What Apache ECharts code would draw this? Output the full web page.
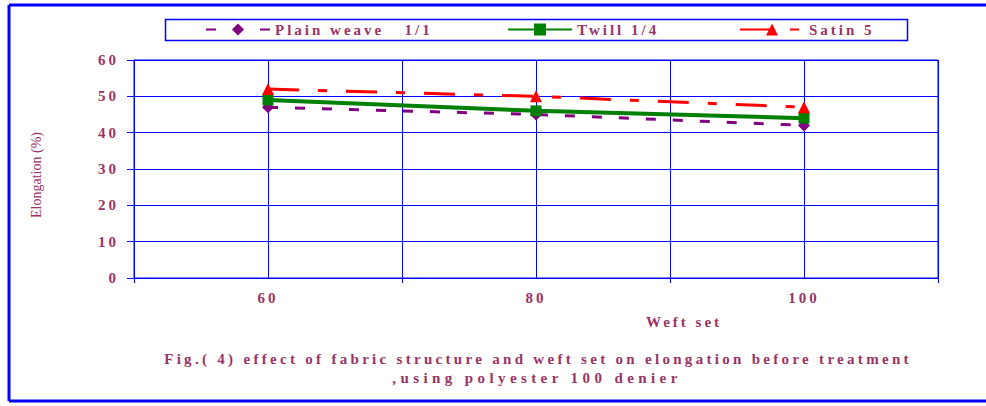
<!DOCTYPE html>
<html>
<head>
<meta charset="utf-8">
<script src="https://cdn.jsdelivr.net/npm/echarts@6/dist/echarts.min.js"></script>
<style>
  html, body { margin: 0; padding: 0; background: #ffffff; }
  #chart { width: 986px; height: 406px; }
</style>
</head>
<body>
<div id="chart"></div>
<script>
// Weft set categories and elongation (%) per fabric structure
const categories = ['60', '80', '100'];
const plainWeave = [47, 45, 42];
const twill = [49, 46, 44];
const satin = [52, 50, 47];
const seriesNames = ['Plain weave   1/1', 'Twill 1/4', 'Satin 5'];
const yTicks = { min: 0, max: 60, interval: 10 };
const yTitle = 'Elongation (%)';
const xTitle = 'Weft set';
const captionLines = [
  'Fig.( 4) effect of fabric structure and weft set on elongation before treatment',
  ',using polyester 100 denier'
];

const TEXT = '#993366';
const BLUE = '#0000ff';
const SERIF = '"Liberation Serif", "Times New Roman", serif';

const chart = echarts.init(document.getElementById('chart'), null, { renderer: 'svg' });

const legendText = { color: TEXT, fontFamily: SERIF, fontWeight: 'bold', fontSize: 15 };
function legendAt(name, left) {
  return {
    data: [name], left: left, top: 22, padding: 0, itemGap: 0,
    itemWidth: 64, itemHeight: 15, textStyle: legendText
  };
}

chart.setOption({
  animation: false,
  backgroundColor: '#ffffff',
  grid: {
    left: 134, right: 48, top: 60, bottom: 128,
    show: true, borderColor: BLUE, borderWidth: 1, backgroundColor: 'transparent'
  },
  legend: [
    legendAt(seriesNames[0], 205),
    legendAt(seriesNames[1], 507),
    legendAt(seriesNames[2], 739)
  ],
  xAxis: [
    {
      type: 'category', data: categories, boundaryGap: true,
      axisLine: { lineStyle: { color: BLUE, width: 1 } },
      axisTick: { show: true, length: 5, lineStyle: { color: BLUE } },
      splitLine: { show: false },
      axisLabel: { color: TEXT, fontFamily: SERIF, fontWeight: 'bold', fontSize: 15, margin: 12 }
    },
    {
      // helper axis that only carries the vertical gridlines
      type: 'value', min: 0, max: 6, interval: 1, position: 'bottom',
      axisLine: { show: false }, axisTick: { show: false }, axisLabel: { show: false },
      splitLine: { show: true, lineStyle: { color: BLUE, width: 1 } }
    }
  ],
  yAxis: {
    type: 'value', min: yTicks.min, max: yTicks.max, interval: yTicks.interval,
    axisLine: { show: true, lineStyle: { color: BLUE, width: 1 } },
    axisTick: { show: true, length: 7, lineStyle: { color: BLUE } },
    splitLine: { show: true, lineStyle: { color: BLUE, width: 1 } },
    axisLabel: { color: TEXT, fontFamily: SERIF, fontWeight: 'bold', fontSize: 15, margin: 15 }
  },
  series: [
    {
      name: seriesNames[0], type: 'line', data: plainWeave, xAxisIndex: 0,
      symbol: 'diamond', symbolSize: 12,
      itemStyle: { color: '#800080' },
      lineStyle: { color: '#800080', width: 3, type: [10, 17] }
    },
    {
      name: seriesNames[1], type: 'line', data: twill, xAxisIndex: 0,
      symbol: 'rect', symbolSize: 11,
      itemStyle: { color: '#008000' },
      lineStyle: { color: '#008000', width: 4, type: 'solid' }
    },
    {
      name: seriesNames[2], type: 'line', data: satin, xAxisIndex: 0,
      symbol: 'triangle', symbolSize: 12,
      itemStyle: { color: '#ff0000' },
      lineStyle: { color: '#ff0000', width: 3, type: [31, 19, 9, 19] }
    }
  ],
  graphic: [
    // outer frame
    { type: 'line', shape: { x1: 9, y1: 5, x2: 986, y2: 5 }, style: { stroke: BLUE, lineWidth: 3 } },
    { type: 'line', shape: { x1: 9, y1: 5, x2: 9, y2: 401 }, style: { stroke: BLUE, lineWidth: 3 } },
    { type: 'line', shape: { x1: 9, y1: 401, x2: 986, y2: 401 }, style: { stroke: BLUE, lineWidth: 3 } },
    // legend box
    { type: 'rect', shape: { x: 165.5, y: 19.5, width: 742, height: 21 }, style: { fill: 'none', stroke: BLUE, lineWidth: 1.5 }, z: -1 },
    // y axis title (narrow, unspaced)
    { type: 'text', x: 36, y: 175, rotation: Math.PI / 2, style: { text: yTitle, fill: TEXT, font: '14px ' + SERIF, textAlign: 'center', textVerticalAlign: 'middle' } },
    // x axis title
    { type: 'text', x: 684, y: 322, style: { text: xTitle, fill: TEXT, font: 'bold 15px ' + SERIF, textAlign: 'center', textVerticalAlign: 'middle' } },
    // caption
    { type: 'text', x: 538, y: 359, style: { text: captionLines[0], fill: TEXT, font: 'bold 15px ' + SERIF, textAlign: 'center', textVerticalAlign: 'middle' } },
    { type: 'text', x: 537, y: 378, style: { text: captionLines[1], fill: TEXT, font: 'bold 15px ' + SERIF, textAlign: 'center', textVerticalAlign: 'middle' } }
  ]
});

// Wide-tracked lettering for every label except the rotated y title
const tracking = {};
tracking[captionLines[0]] = '3.3px';
tracking[captionLines[1]] = '4.4px';
document.querySelectorAll('#chart svg text').forEach(function (t) {
  const s = t.textContent;
  if (s === yTitle) return;
  t.style.letterSpacing = tracking[s] || '3px';
});
</script>
</body>
</html>
